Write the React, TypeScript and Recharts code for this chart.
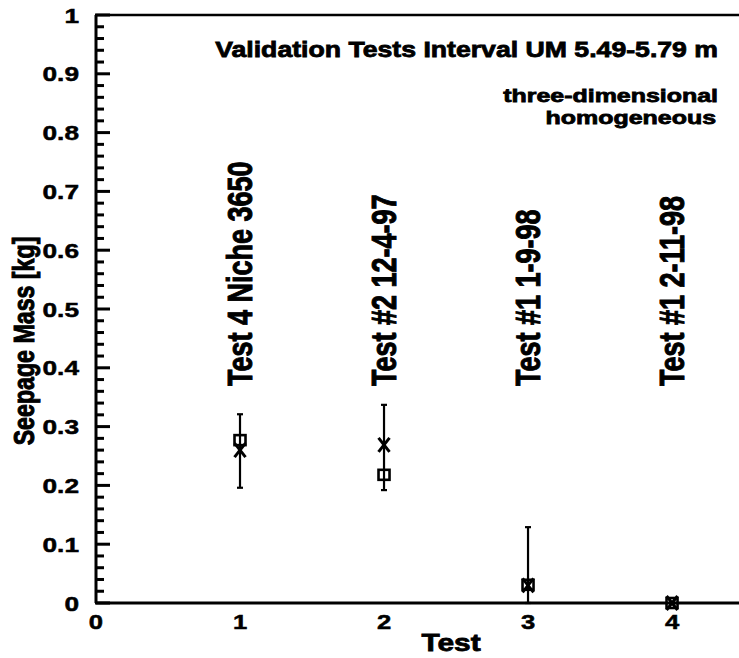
import React from "react";
import {
  ComposedChart,
  Scatter,
  XAxis,
  YAxis,
  ErrorBar,
  ReferenceLine,
  ReferenceDot,
  Customized,
} from "recharts";

// test number on the x axis
const TESTS = [1, 2, 3, 4];
const TEST_LABELS = [
  "Test 4 Niche 3650",
  "Test #2 12-4-97",
  "Test #1 1-9-98",
  "Test #1 2-11-98",
];
// squares
const MEASURED = [0.277, 0.218, 0.031, 0.0];
// crosses, with the bar ends
const SIMULATED = [0.26, 0.269, 0.03, 0.0];
const BAR_LOW = [0.196, 0.192, 0.0, 0.0];
const BAR_HIGH = [0.321, 0.337, 0.129, 0.0];

const X_TICKS = [0, 1, 2, 3, 4];
const Y_MAJOR = [0, 0.1, 0.2, 0.3, 0.4, 0.5, 0.6, 0.7, 0.8, 0.9, 1];

const FONT = "'Liberation Sans', Arial, Helvetica, sans-serif";
const SX = 1.22; // the scan is stretched sideways
const W = 739;
const H = 658;
const LEFT = 96;
const TOP = 15;
const AXIS_H = 55;
const X_MAX = 4.465;
const LABEL_Y = 0.369;
const HEAVY = { stroke: "#000", strokeWidth: 0.8 };

// inward tick marks every 0.02, long ones on the tenths
const Y_ALL: number[] = [];
for (let i = 0; i <= 50; i++) Y_ALL.push(i / 50);

const measData = TESTS.map((x, i) => ({ x, y: MEASURED[i] }));
const simData = TESTS.map((x, i) => ({
  x,
  y: SIMULATED[i],
  err: [SIMULATED[i] - BAR_LOW[i], BAR_HIGH[i] - SIMULATED[i]],
}));

const isMajor = (v: number) => Y_MAJOR.some((m) => Math.abs(m - v) < 1e-6);
const fmtY = (v: number) => (v === 0 ? "0" : v === 1 ? "1" : v.toFixed(1));

function YTick(props: any) {
  const { y, payload } = props;
  return (
    <text
      transform={`translate(79,${y + 7.5}) scale(1.25,1)`}
      textAnchor="end"
      fontFamily={FONT}
      fontWeight="bold"
      fontSize={21}
      fill="#000"
      stroke="#000"
      strokeWidth={0.5}
    >
      {fmtY(payload.value)}
    </text>
  );
}

function XTick(props: any) {
  const { x, payload } = props;
  return (
    <text
      transform={`translate(${x},629) scale(1.25,1)`}
      textAnchor="middle"
      fontFamily={FONT}
      fontWeight="bold"
      fontSize={20.5}
      fill="#000"
      stroke="#000"
      strokeWidth={0.5}
    >
      {payload.value}
    </text>
  );
}

function Square(props: any) {
  const { cx, cy } = props;
  return (
    <rect x={cx - 5.5} y={cy - 5} width={11} height={10} fill="none" stroke="#000" strokeWidth={2.6} />
  );
}

function Cross(props: any) {
  const { cx, cy } = props;
  return (
    <g stroke="#000" strokeWidth={3}>
      <line x1={cx - 5.5} y1={cy - 7} x2={cx + 5.5} y2={cy + 7} />
      <line x1={cx + 5.5} y1={cy - 7} x2={cx - 5.5} y2={cy + 7} />
    </g>
  );
}

function Texts() {
  const t = { fontFamily: FONT, fontWeight: "bold" as const, fill: "#000", ...HEAVY };
  return (
    <g>
      <text transform={`translate(718,57) scale(1.2,1)`} textAnchor="end" fontSize={22.2} {...t}>
        Validation Tests Interval UM 5.49-5.79 m
      </text>
      <text transform={`translate(718,102) scale(1.3,1)`} textAnchor="end" fontSize={19.2} {...t}>
        three-dimensional
      </text>
      <text transform={`translate(716,124) scale(1.3,1)`} textAnchor="end" fontSize={19.2} {...t}>
        homogeneous
      </text>
      <text transform={`translate(451,651) scale(${SX},1)`} textAnchor="middle" fontSize={24.5} {...t}>
        Test
      </text>
      <text
        transform={`translate(34,341) scale(1.28,1) rotate(-90)`}
        textAnchor="middle"
        fontSize={23.2}
        {...t}
      >
        Seepage Mass [kg]
      </text>
    </g>
  );
}

export default function App() {
  return (
    <div style={{ position: "absolute", left: 0, top: 0, width: W, height: H, background: "#fff" }}>
      <ComposedChart width={W} height={H} margin={{ top: TOP, right: 0, bottom: 0, left: 0 }}>
        <XAxis
          type="number"
          dataKey="x"
          domain={[0, X_MAX]}
          ticks={X_TICKS}
          interval={0}
          height={AXIS_H}
          tickLine={false}
          axisLine={{ stroke: "#000", strokeWidth: 3 }}
          tick={<XTick />}
        />
        <YAxis
          type="number"
          domain={[0, 1]}
          ticks={Y_MAJOR}
          interval={0}
          width={LEFT}
          tickLine={false}
          axisLine={{ stroke: "#000", strokeWidth: 3 }}
          tick={<YTick />}
        />
        <ReferenceLine y={1} stroke="#000" strokeWidth={2.5} />
        {Y_ALL.map((v) => (
          <ReferenceDot
            key={`t${v}`}
            x={0}
            y={v}
            r={0}
            ifOverflow="visible"
            shape={(p: any) => (
              <rect
                x={p.cx - 1}
                y={p.cy - 1.5}
                width={(isMajor(v) ? 15 : 9)}
                height={3}
                fill="#000"
              />
            )}
          />
        ))}
        <Scatter data={simData} dataKey="y" shape={<Cross />} isAnimationActive={false}>
          <ErrorBar dataKey="err" direction="y" width={3} stroke="#000" strokeWidth={2.2} isAnimationActive={false} />
        </Scatter>
        <Scatter data={measData} dataKey="y" shape={<Square />} isAnimationActive={false} />
        {TESTS.map((x, i) => (
          <ReferenceDot
            key={x}
            x={x}
            y={LABEL_Y}
            r={0}
            ifOverflow="visible"
            shape={(p: any) => (
              <text
                transform={`translate(${p.cx + 12},${p.cy}) scale(1.28,1) rotate(-90)`}
                textAnchor="start"
                fontFamily={FONT}
                fontWeight="bold"
                fontSize={27}
                fill="#000"
                {...HEAVY}
              >
                {TEST_LABELS[i]}
              </text>
            )}
          />
        ))}
        <Customized component={<Texts />} />
      </ComposedChart>
    </div>
  );
}
